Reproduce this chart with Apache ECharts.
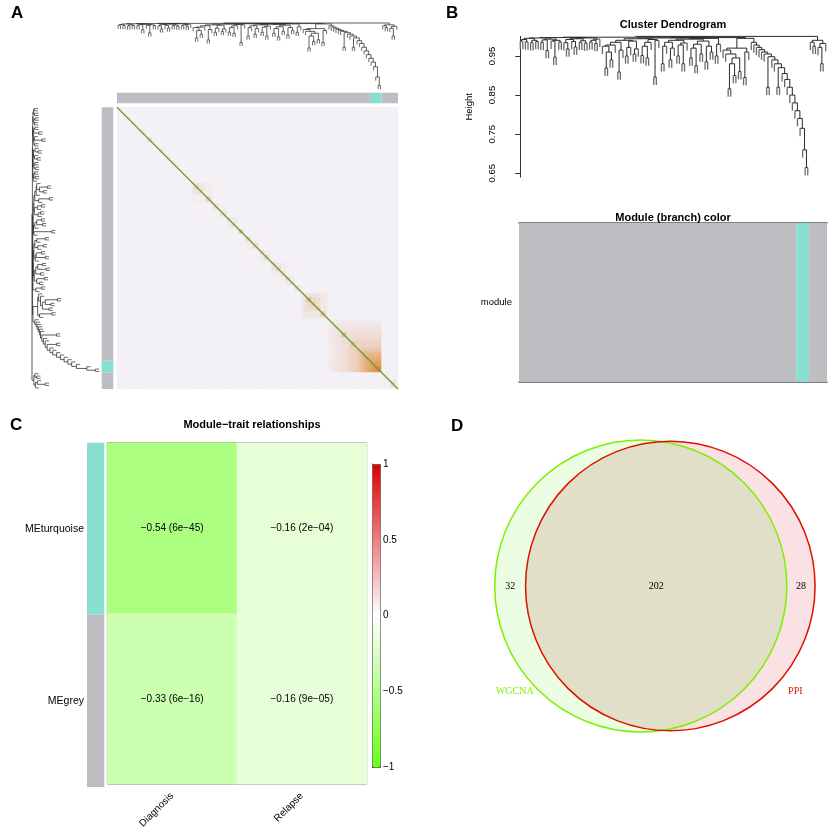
<!DOCTYPE html>
<html>
<head>
<meta charset="utf-8">
<script src="https://cdn.jsdelivr.net/npm/echarts@6/dist/echarts.min.js"></script>
<style>
html, body { margin: 0; padding: 0; background: #fff; }
#main { width: 829px; height: 831px; }
</style>
</head>
<body>
<div id="main"></div>
<script>
// gene dendrogram: height at which each leaf merges with its right neighbour
const mergeHeights = [
	0.988, 0.992, 0.986, 0.995, 0.984, 0.99, 0.987, 0.996, 0.985, 0.991,
	0.964, 0.993, 0.988, 0.947, 0.99, 0.986, 0.997, 0.984, 0.968, 0.992,
	0.987, 0.973, 0.994, 0.985, 0.989, 0.983, 0.996, 0.986, 0.99, 0.982,
	0.993,
	0.998, 0.975, 0.919, 0.96, 0.94, 0.978, 0.985, 0.909, 0.965, 0.99,
	0.95, 0.972, 0.988, 0.955, 0.968, 0.994, 0.951, 0.975, 0.945, 0.985,
	0.992, 0.896, 0.99,
	0.996, 0.93, 0.975, 0.985, 0.94, 0.97, 0.99, 0.95, 0.978, 0.93,
	0.983, 0.993, 0.945, 0.97, 0.925, 0.98, 0.955, 0.988, 0.935, 0.975,
	0.96, 0.995, 0.95, 0.98, 0.997,
	0.965, 0.955, 0.866, 0.93, 0.9, 0.945, 0.91, 0.97, 0.895, 0.96,
	0.995,
	0.985, 0.978, 0.972, 0.966, 0.96, 0.955, 0.87, 0.948, 0.94, 0.93,
	0.87, 0.92, 0.905, 0.89, 0.87, 0.85, 0.83, 0.81, 0.79, 0.765,
	0.71, 0.665,
	1.0,
	0.985, 0.975, 0.99, 0.972, 0.93, 0.982
]
const leafHang = 0.02
// module colour of the leaves, left to right, as runs
const moduleRuns = [['grey', 108], ['turquoise', 5], ['grey', 7]]
const heightTicks = [0.65, 0.75, 0.85, 0.95]

// module-trait table
const moduleNames = ['MEturquoise', 'MEgrey']
const moduleRowColors = ['turquoise', 'grey']
const traitNames = ['Diagnosis', 'Relapse']
const corrValues = [[-0.54, -0.16], [-0.33, -0.16]]
const pValues = [['6e-45', '2e-04'], ['6e-16', '9e-05']]

// venn
const vennNames = ['WGCNA', 'PPI']
const vennOnly = [32, 28]
const vennShared = 202

const moduleColor = {grey: '#bebdc2', turquoise: '#88dfcf'}
const font = 'Liberation Sans'
const minus = s => String(s).replace(/-/g, '\u2212')

// ---- dendrogram segments
const leafCount = mergeHeights.length + 1
const leafIds = Array.from({length: leafCount}, (_, i) => i)

function leafParent(i) {
	let a = i > 0 ? mergeHeights[i - 1] : Infinity
	let b = i < mergeHeights.length ? mergeHeights[i] : Infinity
	return Math.min(a, b)
}

// each segment: [x1, h1, x2, h2, isLeafDrop]
let dendroSegs = []
function buildTree(lo, hi) {
	if (lo === hi) return {x: lo, h: leafParent(lo) - leafHang, leaf: 1}
	let k = lo
	for (let i = lo + 1; i < hi; i++) {
		if (mergeHeights[i] > mergeHeights[k]) k = i
	}
	let left = buildTree(lo, k)
	let right = buildTree(k + 1, hi)
	let h = mergeHeights[k]
	dendroSegs.push([left.x, h, right.x, h, 0])
	dendroSegs.push([left.x, h, left.x, left.h, left.leaf])
	dendroSegs.push([right.x, h, right.x, right.h, right.leaf])
	return {x: (left.x + right.x) / 2, h: h, leaf: 0}
}
buildTree(0, leafCount - 1)

let moduleBlocks = []
let runStart = 0
moduleRuns.forEach(r => {
	moduleBlocks.push([runStart, runStart + r[1] - 1, r[0]])
	runStart += r[1]
})

// TOM-style matrix from the cophenetic heights, raised to the 7th power as in TOMplot
let tomData = []
for (let i = 0; i < leafCount; i++) {
	for (let j = 0; j < leafCount; j++) {
		let d = 0
		if (i === j) {
			d = leafParent(i)
		} else {
			for (let k = Math.min(i, j); k < Math.max(i, j); k++) d = Math.max(d, mergeHeights[k])
		}
		tomData.push([j, i, Math.pow(d, 7)])
	}
}

// ---- module-trait cells
let traitCells = []
let traitTexts = []
moduleNames.forEach((m, mi) => {
	traitNames.forEach((t, ti) => {
		let v = corrValues[mi][ti]
		traitCells.push([ti, mi, v])
		traitTexts.push(minus(v.toFixed(2)) + ' (' + minus(pValues[mi][ti]) + ')')
	})
})

// ---- venn geometry, areas proportional to set sizes
const vennTotals = vennOnly.map(n => n + vennShared)
const vennR = vennTotals.map(t => Math.sqrt(t / Math.PI))

function lensArea(r1, r2, d) {
	if (d >= r1 + r2) return 0
	if (d <= Math.abs(r1 - r2)) return Math.PI * Math.pow(Math.min(r1, r2), 2)
	let a1 = r1 * r1 * Math.acos((d * d + r1 * r1 - r2 * r2) / (2 * d * r1))
	let a2 = r2 * r2 * Math.acos((d * d + r2 * r2 - r1 * r1) / (2 * d * r2))
	let k = 0.5 * Math.sqrt((-d + r1 + r2) * (d + r1 - r2) * (d - r1 + r2) * (d + r1 + r2))
	return a1 + a2 - k
}
let dLo = Math.abs(vennR[0] - vennR[1]), dHi = vennR[0] + vennR[1]
for (let it = 0; it < 80; it++) {
	let mid = (dLo + dHi) / 2
	if (lensArea(vennR[0], vennR[1], mid) > vennShared) dLo = mid
	else dHi = mid
}
const vennD = (dLo + dHi) / 2
const vennSpan = vennR[0] + vennD + vennR[1]
const vennCx = [-vennSpan / 2 + vennR[0], -vennSpan / 2 + vennR[0] + vennD]
const vennIx = (vennD * vennD + vennR[0] * vennR[0] - vennR[1] * vennR[1]) / (2 * vennD)
const vennIy = Math.sqrt(vennR[0] * vennR[0] - vennIx * vennIx)
const vennFill = ['#ebfee3', '#f9e1e4']
const vennLens = '#e1dfc7'
const vennStroke = ['#7cf000', '#dd1100']
const vennCatAngle = [-130, 130]
const vennCatDist = 1.09

// ---- render helpers
function segItem(swap, width) {
	return function (params, api) {
		let p = swap ? [api.value(1), api.value(0)] : [api.value(0), api.value(1)]
		let q = swap ? [api.value(3), api.value(2)] : [api.value(2), api.value(3)]
		let a = api.coord(p)
		let b = api.coord(q)
		let isLeaf = api.value(4) === 1
		return {
			type: 'line',
			shape: {x1: a[0], y1: a[1], x2: b[0], y2: b[1]},
			style: {stroke: isLeaf ? '#6a6a6a' : '#2a2a2a', lineWidth: isLeaf ? width * 1.3 : width}
		}
	}
}

function stripH(params, api) {
	let blk = moduleBlocks[params.dataIndex]
	let a = api.coord([blk[0] - 0.5, 1])
	let b = api.coord([blk[1] + 0.5, 0])
	return {type: 'rect', shape: {x: a[0], y: a[1], width: b[0] - a[0], height: b[1] - a[1]}, style: {fill: moduleColor[blk[2]]}}
}

function stripV(params, api) {
	let blk = moduleBlocks[params.dataIndex]
	let a = api.coord([0, blk[0] - 0.5])
	let b = api.coord([1, blk[1] + 0.5])
	return {type: 'rect', shape: {x: a[0], y: a[1], width: b[0] - a[0], height: b[1] - a[1]}, style: {fill: moduleColor[blk[2]]}}
}

function textEl(x, y, text, color, size, family) {
	return {
		type: 'text',
		style: {
			x: x, y: y, text: text, fill: color, fontSize: size, fontFamily: family,
			align: 'center', verticalAlign: 'middle', textAlign: 'center', textVerticalAlign: 'middle'
		}
	}
}

const hiddenVal = (g, min, max, inverse) => ({gridIndex: g, type: 'value', min: min, max: max, inverse: !!inverse, show: false})
const blockData = moduleBlocks.map(b => [b[0], b[1]])
const letterStyle = {fontSize: 17, fontWeight: 'bold', color: '#000', fontFamily: font}
const titleStyle = {fontSize: 11, fontWeight: 'bold', color: '#000', fontFamily: font}

let option = {
	animation: false,
	backgroundColor: '#fff',
	textStyle: {fontFamily: font},
	title: [
		{text: 'A', left: 11, top: 5, padding: 0, textStyle: letterStyle},
		{text: 'B', left: 446, top: 5, padding: 0, textStyle: letterStyle},
		{text: 'C', left: 10, top: 417, padding: 0, textStyle: letterStyle},
		{text: 'D', left: 451, top: 418, padding: 0, textStyle: letterStyle},
		{text: 'Cluster Dendrogram', left: 673, top: 19, padding: 0, textAlign: 'center', textStyle: titleStyle},
		{text: 'Module (branch) color', left: 673, top: 212, padding: 0, textAlign: 'center', textStyle: titleStyle},
		{text: 'Module\u2212trait relationships', left: 252, top: 419, padding: 0, textAlign: 'center', textStyle: titleStyle}
	],
	grid: [
		{left: 117, top: 23, width: 281, height: 67},          // 0 A top dendrogram
		{left: 117, top: 92.7, width: 281, height: 10.6},      // 1 A top colour strip
		{left: 117, top: 107.3, width: 281, height: 281.7},    // 2 A TOM heatmap
		{left: 101.7, top: 107.3, width: 11.6, height: 281.7}, // 3 A left colour strip
		{left: 32, top: 107.3, width: 68, height: 281.7},      // 4 A left dendrogram
		{left: 519, top: 36.4, width: 308, height: 140.8},     // 5 B dendrogram
		{left: 519, top: 223, width: 308, height: 159},        // 6 B module colours
		{left: 87, top: 442.7, width: 17.3, height: 344.3},    // 7 C module strip
		{left: 107.3, top: 442.7, width: 259.4, height: 344.3, show: true, borderColor: '#888', borderWidth: 1}, // 8 C heatmap
		{left: 372, top: 464, width: 8, height: 303},          // 9 C colour bar axis
		{left: 485.7, top: 416.8, width: 338.4, height: 338.4} // 10 D venn
	],
	xAxis: [
		hiddenVal(0, -0.5, leafCount - 0.5),
		hiddenVal(1, -0.5, leafCount - 0.5),
		{gridIndex: 2, type: 'category', data: leafIds, show: false},
		hiddenVal(3, 0, 1),
		hiddenVal(4, 0.64, 1.0, true),
		hiddenVal(5, -0.5, leafCount - 0.5),
		{gridIndex: 6, type: 'value', min: -0.5, max: leafCount - 0.5, position: 'bottom',
			axisLine: {show: true, lineStyle: {color: '#555', width: 1.5}}, axisTick: {show: false}, axisLabel: {show: false}, splitLine: {show: false}},
		hiddenVal(7, 0, 1),
		{gridIndex: 8, type: 'category', data: traitNames,
			axisLine: {show: false}, axisTick: {show: false},
			axisLabel: {rotate: 45, fontSize: 10, color: '#000', margin: 10, fontFamily: font}},
		hiddenVal(9, 0, 1),
		hiddenVal(10, -10, 10),
		{gridIndex: 6, type: 'value', min: -0.5, max: leafCount - 0.5, position: 'top',
			axisLine: {show: true, lineStyle: {color: '#555', width: 1.5}}, axisTick: {show: false}, axisLabel: {show: false}, splitLine: {show: false}}
	],
	yAxis: [
		hiddenVal(0, 0.64, 1.0),
		hiddenVal(1, 0, 1),
		{gridIndex: 2, type: 'category', data: leafIds, inverse: true, show: false},
		hiddenVal(3, -0.5, leafCount - 0.5, true),
		hiddenVal(4, -0.5, leafCount - 0.5, true),
		{gridIndex: 5, type: 'value', min: 0.64, max: 1.0, offset: 11,
			axisLine: {show: true, lineStyle: {color: '#000', width: 0.8}},
			axisTick: {show: true, length: 5, customValues: heightTicks, lineStyle: {color: '#000', width: 0.8}},
			axisLabel: {rotate: 90, fontSize: 9.5, color: '#000', margin: 11, customValues: heightTicks, formatter: v => v.toFixed(2), fontFamily: font},
			splitLine: {show: false},
			name: 'Height', nameLocation: 'middle', nameGap: 34, nameRotate: 90,
			nameTextStyle: {fontSize: 9.5, color: '#000', fontFamily: font}},
		{gridIndex: 6, type: 'category', data: ['module'],
			axisLine: {show: false}, axisTick: {show: false},
			axisLabel: {fontSize: 9.5, color: '#000', margin: 7, fontFamily: font}},
		{gridIndex: 7, type: 'category', data: moduleNames, inverse: true,
			axisLine: {show: false}, axisTick: {show: false},
			axisLabel: {fontSize: 10.5, color: '#000', margin: 3, fontFamily: font}},
		{gridIndex: 8, type: 'category', data: moduleNames, inverse: true, show: false},
		{gridIndex: 9, type: 'value', min: -1, max: 1, interval: 0.5, position: 'right',
			axisLine: {show: true, lineStyle: {color: '#555', width: 1}},
			axisTick: {show: true, length: 4, lineStyle: {color: '#555'}},
			axisLabel: {fontSize: 10, color: '#000', margin: 3, formatter: v => minus(v), fontFamily: font},
			splitLine: {show: false}},
		hiddenVal(10, -10, 10)
	],
	visualMap: [
		{type: 'continuous', show: false, seriesIndex: 2, min: 0, max: 0.95,
			inRange: {color: ['#d8862f', '#e3aa72', '#ebcbb4', '#f0dfdc', '#f4f1f6']}},
		{type: 'continuous', seriesIndex: 9, min: -1, max: 1, orient: 'vertical',
			left: 372, top: 464, itemWidth: 8, itemHeight: 303, padding: 0,
			calculable: false, hoverLink: false, borderColor: '#555', borderWidth: 1,
			inRange: {color: ['#66ff14', '#ffffff', '#dd0000']}}
	],
	series: [
		{type: 'custom', xAxisIndex: 0, yAxisIndex: 0, data: dendroSegs, renderItem: segItem(false, 0.75), silent: true},
		{type: 'custom', xAxisIndex: 1, yAxisIndex: 1, data: blockData, renderItem: stripH, silent: true},
		{type: 'heatmap', xAxisIndex: 2, yAxisIndex: 2, data: tomData, silent: true, emphasis: {disabled: true}, progressive: 0},
		{type: 'custom', xAxisIndex: 2, yAxisIndex: 2, data: [[0, leafCount - 1]], silent: true, z: 5,
			renderItem: (params, api) => {
				let band = api.size([1, 1])
				let a = api.coord([0, 0])
				let b = api.coord([leafCount - 1, leafCount - 1])
				return {type: 'line', shape: {x1: a[0] - band[0] / 2, y1: a[1] - band[1] / 2, x2: b[0] + band[0] / 2, y2: b[1] + band[1] / 2},
					style: {stroke: '#66a033', lineWidth: 1.3}}
			}},
		{type: 'custom', xAxisIndex: 3, yAxisIndex: 3, data: blockData, renderItem: stripV, silent: true},
		{type: 'custom', xAxisIndex: 4, yAxisIndex: 4, data: dendroSegs, renderItem: segItem(true, 0.75), silent: true},
		{type: 'custom', xAxisIndex: 5, yAxisIndex: 5, data: dendroSegs, renderItem: segItem(false, 1), silent: true},
		{type: 'custom', xAxisIndex: 6, yAxisIndex: 6, data: blockData, silent: true,
			renderItem: (params, api) => {
				let blk = moduleBlocks[params.dataIndex]
				let band = api.size([0, 1])[1]
				let a = api.coord([blk[0] - 0.5, 0])
				let b = api.coord([blk[1] + 0.5, 0])
				return {type: 'rect', shape: {x: a[0], y: a[1] - band / 2, width: b[0] - a[0], height: band}, style: {fill: moduleColor[blk[2]]}}
			}},
		{type: 'custom', xAxisIndex: 7, yAxisIndex: 7, data: moduleNames.map((m, i) => [0, i]), silent: true,
			renderItem: (params, api) => {
				let band = api.size([0, 1])[1]
				let a = api.coord([0, params.dataIndex])
				let b = api.coord([1, params.dataIndex])
				return {type: 'rect', shape: {x: a[0], y: a[1] - band / 2, width: b[0] - a[0], height: band},
					style: {fill: moduleColor[moduleRowColors[params.dataIndex]]}}
			}},
		{type: 'heatmap', xAxisIndex: 8, yAxisIndex: 8, data: traitCells, silent: true, emphasis: {disabled: true},
			label: {show: true, formatter: p => traitTexts[p.dataIndex], fontSize: 10, color: '#000', fontFamily: font}},
		// venn fills
		{type: 'custom', xAxisIndex: 10, yAxisIndex: 10, data: vennNames.map((n, i) => [vennCx[i], 0]), silent: true,
			renderItem: (params, api) => {
				let i = params.dataIndex
				let c = api.coord([vennCx[i], 0])
				let r = api.size([vennR[i], 0])[0]
				return {type: 'circle', shape: {cx: c[0], cy: c[1], r: r}, style: {fill: vennFill[i]}}
			}},
		// overlap lens and its count
		{type: 'custom', xAxisIndex: 10, yAxisIndex: 10, data: [[vennShared]], silent: true,
			renderItem: (params, api) => {
				let pts = []
				let phi1 = Math.atan2(vennIy, vennIx)
				for (let t = 0; t <= 90; t++) {
					let a = phi1 - 2 * phi1 * t / 90
					pts.push(api.coord([vennCx[0] + vennR[0] * Math.cos(a), vennR[0] * Math.sin(a)]))
				}
				let phi2 = Math.atan2(vennIy, vennIx - vennD)
				for (let t = 0; t <= 90; t++) {
					let a = -phi2 - (2 * Math.PI - 2 * phi2) * t / 90
					pts.push(api.coord([vennCx[1] + vennR[1] * Math.cos(a), vennR[1] * Math.sin(a)]))
				}
				let mid = api.coord([((vennCx[1] - vennR[1]) + (vennCx[0] + vennR[0])) / 2, 0])
				return {type: 'group', children: [
					{type: 'polygon', shape: {points: pts}, style: {fill: vennLens}},
					textEl(mid[0], mid[1], String(api.value(0)), '#000', 10, 'Liberation Serif')
				]}
			}},
		// outlines, exclusive counts and set names
		{type: 'custom', xAxisIndex: 10, yAxisIndex: 10, data: vennNames.map((n, i) => [vennCx[i], 0]), silent: true,
			renderItem: (params, api) => {
				let i = params.dataIndex
				let c = api.coord([vennCx[i], 0])
				let r = api.size([vennR[i], 0])[0]
				let edgeA = i === 0 ? vennCx[0] - vennR[0] : vennCx[1] + vennR[1]
				let edgeB = i === 0 ? vennCx[1] - vennR[1] : vennCx[0] + vennR[0]
				let cnt = api.coord([(edgeA + edgeB) / 2, 0])
				let ang = vennCatAngle[i] * Math.PI / 180
				let rr = vennR[i] + vennCatDist
				let cat = api.coord([vennCx[i] + rr * Math.sin(ang), rr * Math.cos(ang)])
				return {type: 'group', children: [
					{type: 'circle', shape: {cx: c[0], cy: c[1], r: r}, style: {fill: 'none', stroke: vennStroke[i], lineWidth: 1.5}},
					textEl(cnt[0], cnt[1], String(vennOnly[i]), '#000', 10, 'Liberation Serif'),
					textEl(cat[0], cat[1], vennNames[i], vennStroke[i], 10, 'Liberation Serif')
				]}
			}}
	]
}

let chart = echarts.init(document.getElementById('main'), null, {renderer: 'canvas'})
chart.setOption(option)
</script>
</body>
</html>
